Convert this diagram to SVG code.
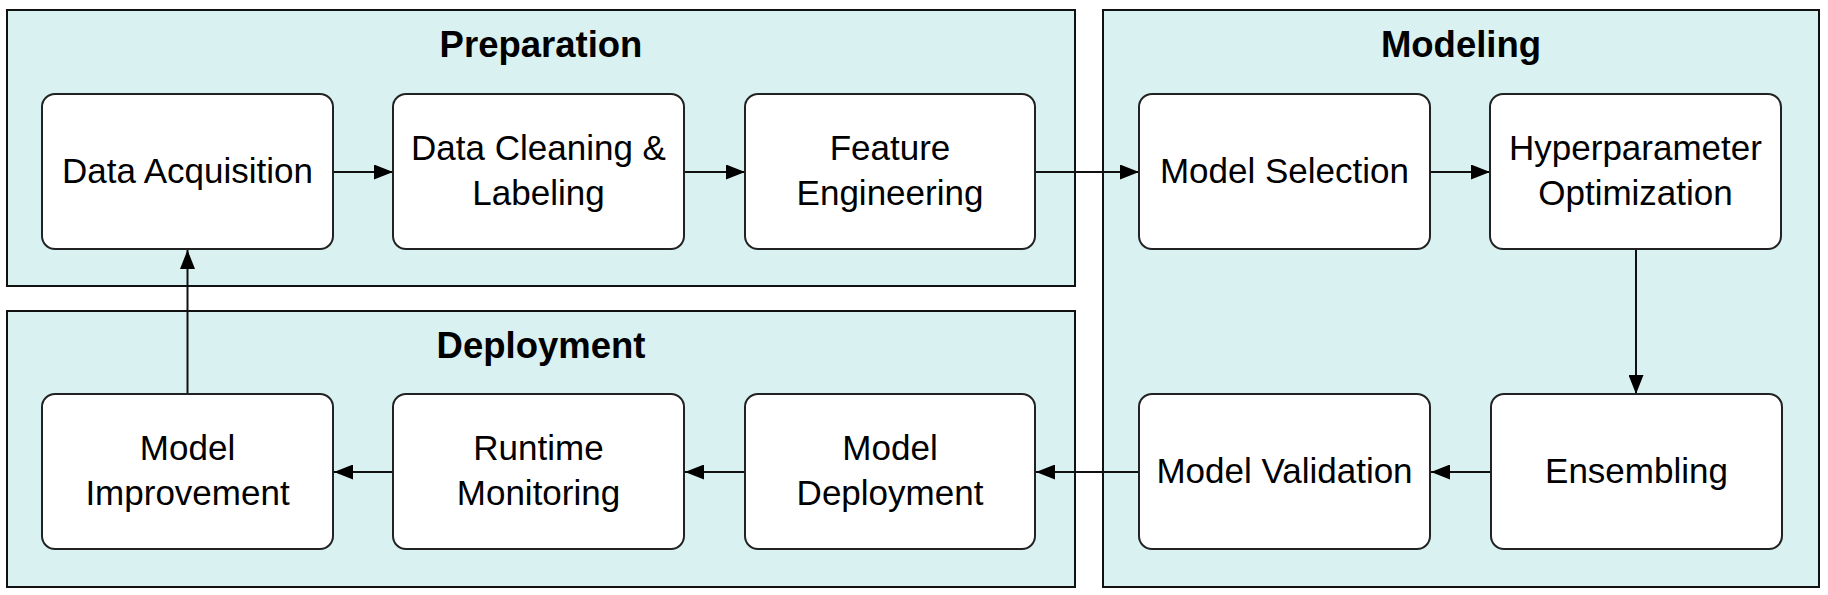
<svg xmlns="http://www.w3.org/2000/svg" width="1828" height="595" viewBox="0 0 1828 595">
<defs>
<style>
.cl{fill:#daf1f1;stroke:#111;stroke-width:2}
.nd{fill:#fff;stroke:#222;stroke-width:2}
.t{font-family:"Liberation Sans",Arial,sans-serif;font-size:35px;fill:#000;text-anchor:middle}
.h{font-family:"Liberation Sans",Arial,sans-serif;font-size:36.5px;font-weight:bold;fill:#000;text-anchor:middle}
.e{stroke:#111;stroke-width:2;fill:none;marker-end:url(#ah)}
</style>
<marker id="ah" markerWidth="19" markerHeight="15" refX="19" refY="7.5" orient="auto" markerUnits="userSpaceOnUse">
<path d="M0,0 L19,7.5 L0,15 Z" fill="#000"/>
</marker>
</defs>
<rect width="1828" height="595" fill="#fff"/>
<g id="cluster-preparation">
<rect class="cl" x="7" y="10" width="1068" height="276"/>
<text class="h" x="541" y="57">Preparation</text>
</g>
<g id="cluster-deployment">
<rect class="cl" x="7" y="311" width="1068" height="276"/>
<text class="h" x="541" y="358">Deployment</text>
</g>
<g id="cluster-modeling">
<rect class="cl" x="1103" y="10" width="716" height="577"/>
<text class="h" x="1461" y="57">Modeling</text>
</g>
<g id="connectors">
<path class="e" d="M333,172 H393"/>
<path class="e" d="M684,172 H745"/>
<path class="e" d="M1035,172 H1139"/>
<path class="e" d="M1430,172 H1490"/>
<path class="e" d="M1636,249 V394"/>
<path class="e" d="M1490,472 H1431"/>
<path class="e" d="M1139,472 H1036"/>
<path class="e" d="M745,472 H685"/>
<path class="e" d="M393,472 H334"/>
<path class="e" d="M187.5,394 V250"/>
</g>
<g id="data-acquisition">
<rect class="nd" x="42" y="94" width="291" height="155" rx="13"/>
<text class="t" x="187.5" y="183">Data Acquisition</text>
</g>
<g id="data-cleaning">
<rect class="nd" x="393" y="94" width="291" height="155" rx="13"/>
<text class="t" x="538.5" y="160">Data Cleaning &amp;</text>
<text class="t" x="538.5" y="205">Labeling</text>
</g>
<g id="feature-engineering">
<rect class="nd" x="745" y="94" width="290" height="155" rx="13"/>
<text class="t" x="890" y="160">Feature</text>
<text class="t" x="890" y="205">Engineering</text>
</g>
<g id="model-selection">
<rect class="nd" x="1139" y="94" width="291" height="155" rx="13"/>
<text class="t" x="1284.5" y="183">Model Selection</text>
</g>
<g id="hyperparameter-optimization">
<rect class="nd" x="1490" y="94" width="291" height="155" rx="13"/>
<text class="t" x="1635.5" y="160">Hyperparameter</text>
<text class="t" x="1635.5" y="205">Optimization</text>
</g>
<g id="ensembling">
<rect class="nd" x="1491" y="394" width="291" height="155" rx="13"/>
<text class="t" x="1636.5" y="483">Ensembling</text>
</g>
<g id="model-validation">
<rect class="nd" x="1139" y="394" width="291" height="155" rx="13"/>
<text class="t" x="1284.5" y="483">Model Validation</text>
</g>
<g id="model-deployment">
<rect class="nd" x="745" y="394" width="290" height="155" rx="13"/>
<text class="t" x="890" y="460">Model</text>
<text class="t" x="890" y="505">Deployment</text>
</g>
<g id="runtime-monitoring">
<rect class="nd" x="393" y="394" width="291" height="155" rx="13"/>
<text class="t" x="538.5" y="460">Runtime</text>
<text class="t" x="538.5" y="505">Monitoring</text>
</g>
<g id="model-improvement">
<rect class="nd" x="42" y="394" width="291" height="155" rx="13"/>
<text class="t" x="187.5" y="460">Model</text>
<text class="t" x="187.5" y="505">Improvement</text>
</g>
</svg>
